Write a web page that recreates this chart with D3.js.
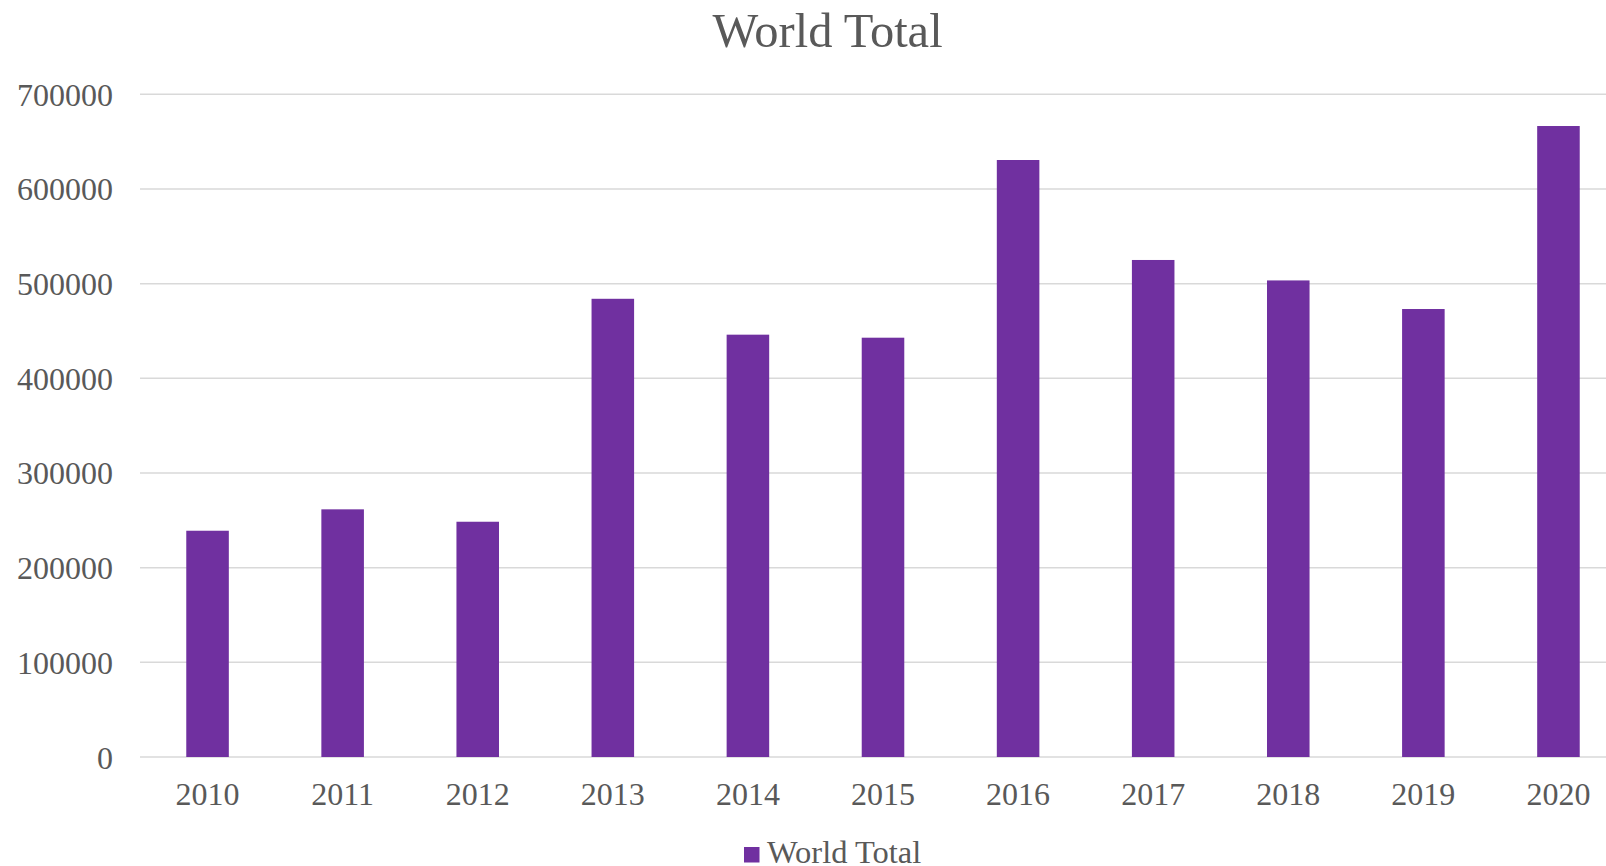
<!doctype html>
<html>
  <head>
    <script src="https://d3js.org/d3.v7.min.js" charset="utf-8"></script>
    <style>
      body { margin: 0; background: #fff; }
      text { font-family: "Liberation Serif", "Times New Roman", serif; fill: #595959; }
    </style>
  </head>
  <body>
    <script>

// data
var years = ["2010", "2011", "2012", "2013", "2014", "2015", "2016", "2017", "2018", "2019", "2020"];
var worldTotal = [239000, 261600, 248500, 484000, 446100, 442900, 630600, 525000, 503400, 473200, 666500];
var yTicks = [0, 100000, 200000, 300000, 400000, 500000, 600000, 700000];
var seriesName = "World Total";

var width = 1606, height = 866;

var svg = d3.select("body")
  .append("svg")
    .attr("width", width)
    .attr("height", height);

// plot area runs past the right edge, like the cropped original
var x = d3.scaleBand()
  .domain(years)
  .range([140, 1626])
  .paddingInner(0.685)
  .paddingOuter(0.3425);

var y = d3.scaleLinear()
  .domain([0, 700000])
  .range([757, 94.3]);

// gridlines
svg.append("g")
  .selectAll("line")
  .data(yTicks)
  .enter()
  .append("line")
    .attr("x1", 140)
    .attr("x2", 1626)
    .attr("y1", function(d) { return y(d); })
    .attr("y2", function(d) { return y(d); })
    .attr("stroke", "#d9d9d9")
    .attr("stroke-width", 1.5);

// y labels
svg.append("g")
  .selectAll("text")
  .data(yTicks)
  .enter()
  .append("text")
    .attr("x", 113)
    .attr("y", function(d) { return y(d) + 11.5; })
    .attr("text-anchor", "end")
    .attr("font-size", 32)
    .text(function(d) { return d; });

// bars
svg.append("g")
  .selectAll("rect")
  .data(worldTotal)
  .enter()
  .append("rect")
    .attr("x", function(d, i) { return x(years[i]); })
    .attr("width", x.bandwidth())
    .attr("y", function(d) { return y(d); })
    .attr("height", function(d) { return y(0) - y(d); })
    .attr("fill", "#7030a0");

// x labels
svg.append("g")
  .selectAll("text")
  .data(years)
  .enter()
  .append("text")
    .attr("x", function(d) { return x(d) + x.bandwidth() / 2; })
    .attr("y", 805)
    .attr("text-anchor", "middle")
    .attr("font-size", 32)
    .text(function(d) { return d; });

// title
svg.append("text")
  .attr("x", 827.5)
  .attr("y", 46.5)
  .attr("text-anchor", "middle")
  .attr("font-size", 48.5)
  .text(seriesName);

// legend
var legend = svg.append("g");
legend.append("rect")
  .attr("x", 744)
  .attr("y", 847)
  .attr("width", 15.5)
  .attr("height", 15.5)
  .attr("fill", "#7030a0");
legend.append("text")
  .attr("x", 767)
  .attr("y", 862.5)
  .attr("font-size", 32.5)
  .text(seriesName);

    </script>
  </body>
</html>
